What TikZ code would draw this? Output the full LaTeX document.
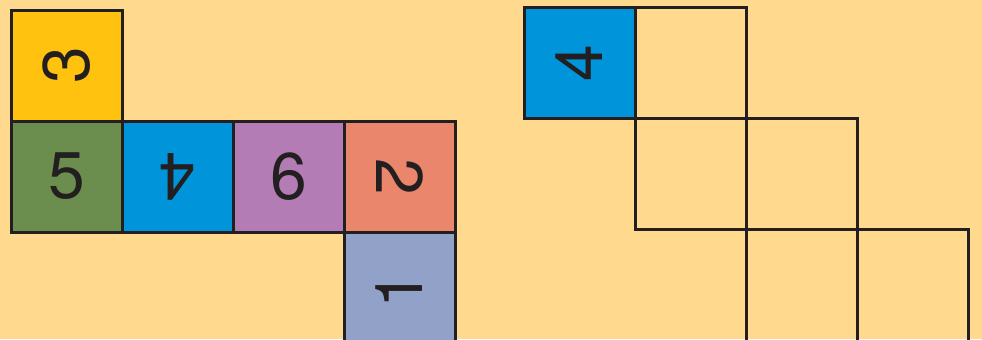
\documentclass[tikz,border=0pt]{standalone}
\usepackage{fontspec}
\setmainfont{TeX Gyre Heros}
\usepackage{xcolor}
\usetikzlibrary{positioning}

\definecolor{paper}{HTML}{FFD98E}
\definecolor{ink}{HTML}{231F20}
\definecolor{faceyellow}{HTML}{FFC20E}
\definecolor{facegreen}{HTML}{6B8E4E}
\definecolor{faceblue}{HTML}{0095DA}
\definecolor{facepurple}{HTML}{B47CB5}
\definecolor{facesalmon}{HTML}{E9866C}
\definecolor{facegrey}{HTML}{91A1C8}

\begin{document}
\begin{tikzpicture}[
    x=0.5pt, y=0.5pt,
    node distance=0pt,
    face/.style={rectangle, draw=ink, line width=1.5pt, minimum size=55.5pt, inner sep=0pt, outer sep=0pt, text=ink, font=\fontsize{33}{33}\selectfont},
    blank/.style={face, fill=none},
    cutoff/.style={minimum height=60pt}
]

% Frame and background
\clip (0,0) rectangle (982,-339);
\fill [paper] (0,0) rectangle (982,-339);

% Left net
\node [face, fill=faceyellow] at (66.5,-65.5) (top) {\rotatebox{90}{3}};
\node [face, fill=facegreen, below=of top] (five) {5};
\node [face, fill=faceblue, right=of five] (four) {\rotatebox{180}{4}};
\node [face, fill=facepurple, right=of four] (six) {6};
\node [face, fill=facesalmon, right=of six] (two) {\rotatebox{-90}{2}};
\node [face, cutoff, fill=facegrey, below=of two] (one) {\raisebox{2pt}{\rotatebox{90}{1}}};

% Right net, only one face filled in
\node [face, fill=faceblue] at (579.5,-63) (start) {\rotatebox{90}{4}};
\node [blank, right=of start] (sqa) {};
\node [blank, below=of sqa] (sqb) {};
\node [blank, right=of sqb] (sqc) {};
\node [blank, cutoff, below=of sqc] (sqd) {};
\node [blank, cutoff, right=of sqd] (sqe) {};

\end{tikzpicture}
\end{document}
